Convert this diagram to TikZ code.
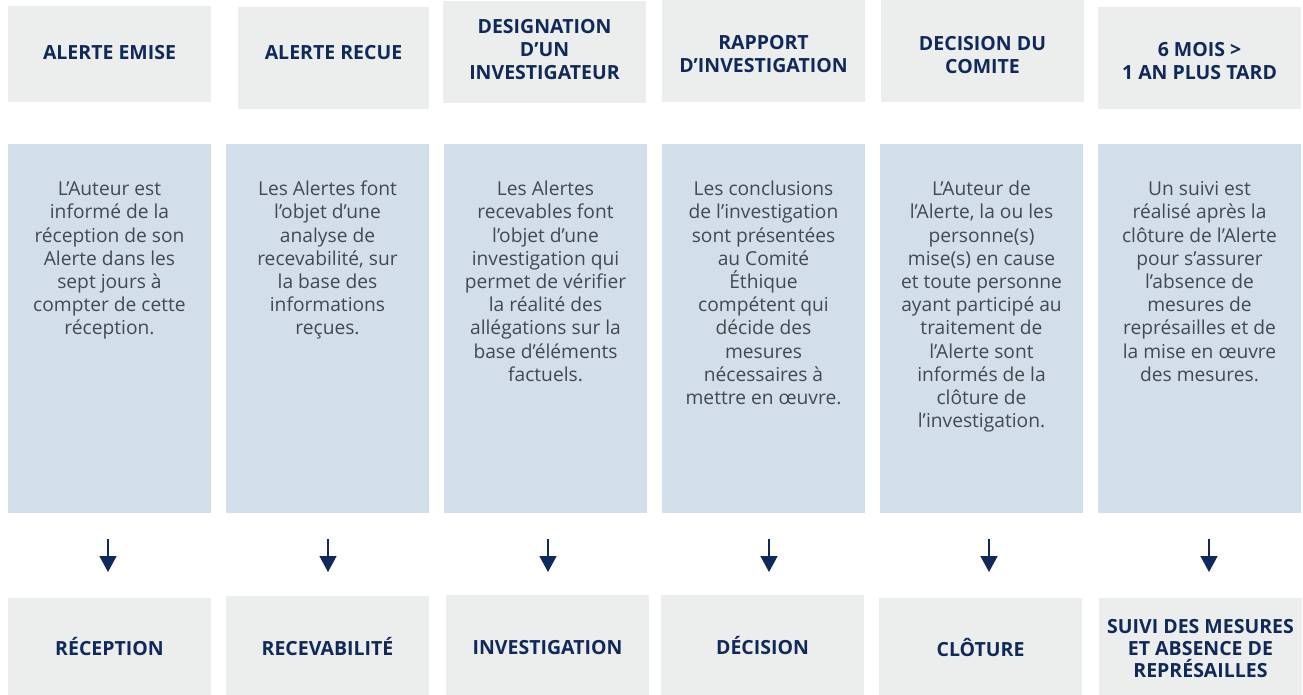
\documentclass[tikz,border=0pt]{standalone}
\usepackage{fontspec}
\setmainfont{Open Sans}
\usetikzlibrary{arrows.meta}
\definecolor{boxgray}{HTML}{ECEEEE}
\definecolor{boxblue}{HTML}{D2DEEA}
\definecolor{navy}{HTML}{10295A}
\definecolor{bodygray}{HTML}{414A4F}
\newcommand{\mystrut}{\rule{0pt}{20pt}}
\begin{document}
\begin{tikzpicture}[x=1pt,y=-1pt,
  graybox/.style={fill=boxgray, draw=none, inner sep=0pt, minimum width=203pt},
  bluebox/.style={fill=boxblue, draw=none, inner sep=0pt, minimum width=203pt, minimum height=369pt},
  headtext/.style={anchor=north, inner sep=0pt, align=center, text=navy,
    font=\bfseries\fontsize{19.5}{23.3}\selectfont},
  foottext/.style={anchor=north, inner sep=0pt, align=center, text=navy,
    font=\bfseries\fontsize{19.5}{21.8}\selectfont},
  bodytext/.style={anchor=north, inner sep=0pt, align=center, text=bodygray,
    font=\fontsize{19.2}{23.2}\selectfont},
  flowarrow/.style={draw=navy, line width=1.5pt, -{Triangle[width=17pt,length=16pt]}}
]
\useasboundingbox (0,0) rectangle (1303,695);
\fill[white] (0,0) rectangle (1303,695);

% top boxes
\node[graybox, minimum height=96pt]  (t1) at (109.5,54) {};
\node[graybox, minimum width=191pt, minimum height=102pt] (t2) at (333.5,58) {};
\node[graybox, minimum height=102pt] (t3) at (544.5,52) {};
\node[graybox, minimum height=102pt] (t4) at (763.5,51) {};
\node[graybox, minimum height=102pt] (t5) at (982.5,51) {};
\node[graybox, minimum height=102pt] (t6) at (1199.5,58) {};

% middle boxes
\node[bluebox] (m1) at (109.5,328.5) {};
\node[bluebox] (m2) at (327.5,328.5) {};
\node[bluebox] (m3) at (545.5,328.5) {};
\node[bluebox] (m4) at (763.5,328.5) {};
\node[bluebox] (m5) at (981.5,328.5) {};
\node[bluebox] (m6) at (1199.5,328.5) {};

% bottom boxes
\node[graybox, minimum height=97pt]  (b1) at (109.5,646.5) {};
\node[graybox, minimum height=99pt]  (b2) at (327.5,645.5) {};
\node[graybox, minimum height=100pt] (b3) at (547.5,645) {};
\node[graybox, minimum height=100pt] (b4) at (762.5,645) {};
\node[graybox, minimum height=97pt]  (b5) at (980.5,646.5) {};
\node[graybox, minimum height=97pt]  (b6) at (1200.5,646.5) {};

% header texts
\node[headtext] (ht1) at (109.5,39) {\mystrut ALERTE EMISE};
\node[headtext] (ht2) at (333.5,39) {\mystrut ALERTE RECUE};
\node[headtext] (ht3) at (544.5,13) {\mystrut DESIGNATION\\D’UN\\INVESTIGATEUR};
\node[headtext] (ht4) at (763.5,29.5) {\mystrut RAPPORT\\D’INVESTIGATION};
\node[headtext] (ht5) at (982.5,30) {\mystrut DECISION DU\\COMITE};
\node[headtext] (ht6) at (1199.5,36) {\mystrut 6 MOIS >\\1 AN PLUS TARD};

% body texts
\node[bodytext] (mt1) at (109.5,175.5) {\mystrut L’Auteur est\\informé de la\\réception de son\\Alerte dans les\\sept jours à\\compter de cette\\réception.};
\node[bodytext] (mt2) at (327.5,175.5) {\mystrut Les Alertes font\\l’objet d’une\\analyse de\\recevabilité, sur\\la base des\\informations\\reçues.};
\node[bodytext] (mt3) at (545.5,175.5) {\mystrut Les Alertes\\recevables font\\l’objet d’une\\investigation qui\\permet de vérifier\\la réalité des\\allégations sur la\\base d’éléments\\factuels.};
\node[bodytext] (mt4) at (763.5,175.5) {\mystrut Les conclusions\\de l’investigation\\sont présentées\\au Comité\\Éthique\\compétent qui\\décide des\\mesures\\nécessaires à\\mettre en œuvre.};
\node[bodytext] (mt5) at (981.5,175.5) {\mystrut L’Auteur de\\l’Alerte, la ou les\\personne(s)\\mise(s) en cause\\et toute personne\\ayant participé au\\traitement de\\l’Alerte sont\\informés de la\\clôture de\\l’investigation.};
\node[bodytext] (mt6) at (1199.5,175.5) {\mystrut Un suivi est\\réalisé après la\\clôture de l’Alerte\\pour s’assurer\\l’absence de\\mesures de\\représailles et de\\la mise en œuvre\\des mesures.};

% footer texts
\node[foottext] (ft1) at (109.5,635) {\mystrut RÉCEPTION};
\node[foottext] (ft2) at (327.5,635) {\mystrut RECEVABILITÉ};
\node[foottext] (ft3) at (547.5,634) {\mystrut INVESTIGATION};
\node[foottext] (ft4) at (762.5,634) {\mystrut DÉCISION};
\node[foottext] (ft5) at (980.5,636) {\mystrut CLÔTURE};
\node[foottext] (ft6) at (1200.5,613.5) {\mystrut SUIVI DES MESURES\\ET ABSENCE DE\\REPRÉSAILLES};

% arrows
\coordinate (a1s) at (108,539);  \coordinate (a1e) at (108,572);
\coordinate (a2s) at (328,539);  \coordinate (a2e) at (328,572);
\coordinate (a3s) at (548,539);  \coordinate (a3e) at (548,572);
\coordinate (a4s) at (769,539);  \coordinate (a4e) at (769,572);
\coordinate (a5s) at (989,539);  \coordinate (a5e) at (989,572);
\coordinate (a6s) at (1209,539); \coordinate (a6e) at (1209,572);
\foreach \i in {1,...,6} \draw[flowarrow] (a\i s) -- (a\i e);
\end{tikzpicture}
\end{document}
